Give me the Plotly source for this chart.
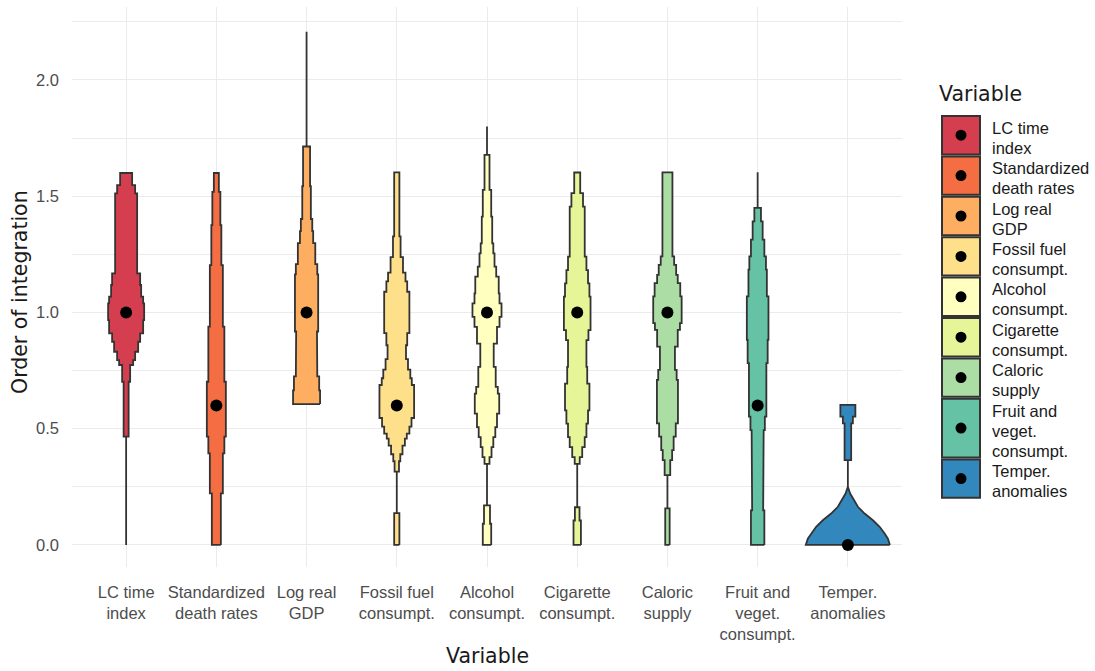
import plotly.graph_objects as go

# ---------------- data ----------------
categories = ["LC time index", "Standardized death rates", "Log real GDP",
              "Fossil fuel consumpt.", "Alcohol consumpt.", "Cigarette consumpt.",
              "Caloric supply", "Fruit and veget. consumpt.", "Temper. anomalies"]
tick_labels = ["LC time<br>index", "Standardized<br>death rates", "Log real<br>GDP",
               "Fossil fuel<br>consumpt.", "Alcohol<br>consumpt.", "Cigarette<br>consumpt.",
               "Caloric<br>supply", "Fruit and<br>veget.<br>consumpt.", "Temper.<br>anomalies"]
legend_lines = [["LC time", "index"], ["Standardized", "death rates"], ["Log real", "GDP"],
                ["Fossil fuel", "consumpt."], ["Alcohol", "consumpt."], ["Cigarette", "consumpt."],
                ["Caloric", "supply"], ["Fruit and", "veget.", "consumpt."], ["Temper.", "anomalies"]]
colors = ["#d53e4f", "#f46d43", "#fdae61", "#fee08b", "#ffffbf",
          "#e6f598", "#abdda4", "#66c2a5", "#3288bd"]
medians = [1.0, 0.6, 1.0, 0.6, 1.0, 1.0, 1.0, 0.6, 0.0]

# violin density profiles: bin edges (order of integration) and density per bin
lc_edges = [0, 0.466, 0.702, 0.774, 0.795, 0.831, 0.874, 0.910, 0.967, 1.039, 1.068,
            1.118, 1.168, 1.333, 1.447, 1.512, 1.548, 1.60]
lc_dens = [0, 2.5, 4, 7, 9, 12, 14, 17, 18, 17, 15, 14, 11, 11.5, 11, 9, 6]

sdr_edges = [0, 0.222, 0.394, 0.466, 0.702, 0.939, 1.204, 1.376, 1.519, 1.60]
sdr_dens = [4.5, 6.5, 8, 9.5, 8, 6.5, 5, 4, 2.5]

gdp_edges = [0.606, 0.665, 0.725, 0.799, 0.918, 1.164, 1.208, 1.298, 1.350, 1.402,
             1.543, 1.714, 2.208]
gdp_dens = [13.5, 12.6, 10.7, 10.4, 11.6, 10.7, 8.7, 6.6, 5.7, 4.3, 3.5, 0]

fossil_edges = [0, 0.137, 0.315, 0.360, 0.390, 0.427, 0.457, 0.479, 0.509, 0.546, 0.688,
                0.717, 0.754, 0.799, 0.859, 0.911, 1.089, 1.134, 1.171, 1.238, 1.327, 1.603]
fossil_dens = [2.6, 0, 2.2, 3.5, 5.7, 8.1, 10, 12.6, 14.7, 17.3, 15, 13.5, 11.2, 9.2,
               10.4, 12.6, 10.4, 8.7, 6.2, 3.8, 2.6]

alc_edges = [0, 0.091, 0.170, 0.349, 0.378, 0.421, 0.464, 0.507, 0.565, 0.651, 0.680,
             0.766, 0.866, 0.938, 0.981, 1.039, 1.082, 1.154, 1.197, 1.254, 1.297,
             1.412, 1.527, 1.678, 1.80]
alc_dens = [4.2, 3, 0, 2.5, 4.5, 6.3, 8.3, 10, 12.2, 10.8, 8.7, 6.7, 10, 12.5, 14.5,
            12.5, 11.7, 9.2, 7.5, 6.3, 5.2, 4.2, 2.5, 0]

cig_edges = [0, 0.105, 0.162, 0.349, 0.378, 0.421, 0.464, 0.522, 0.579, 0.694, 0.766,
             0.881, 0.924, 1.068, 1.125, 1.182, 1.240, 1.455, 1.513, 1.602]
cig_dens = [3.7, 2.3, 0, 2.5, 5, 7.5, 9.2, 10.8, 12.2, 10, 9.2, 11.2, 13.3, 12.2, 10.8,
            9.2, 7.5, 5.8, 3]

cal_edges = [0, 0.157, 0.300, 0.365, 0.408, 0.466, 0.523, 0.710, 0.753, 0.853, 0.925,
             0.954, 1.069, 1.126, 1.162, 1.205, 1.241, 1.313, 1.435, 1.603]
cal_dens = [2.2, 0, 2.8, 4.7, 6.2, 8.3, 10.5, 9.2, 7.5, 10.3, 12.5, 14.2, 12.8, 10.3,
            8.7, 6.7, 5, 4.5, 5]

fruit_edges = [0, 0.149, 0.394, 0.494, 0.552, 0.782, 0.882, 1.069, 1.184, 1.241, 1.313,
               1.392, 1.450, 1.603]
fruit_dens = [6.7, 5.5, 6, 7.2, 8.7, 10, 10.8, 9.2, 8.3, 6.7, 5, 3.3, 0]

temp_tri_y = [0, 0.027, 0.049, 0.078, 0.106, 0.135, 0.164, 0.193, 0.221, 0.25]
temp_tri_dens = [42, 40, 36.7, 31.7, 25, 16.7, 10, 5.7, 2.3, 0]
temp_edges = [0.25, 0.365, 0.523, 0.552, 0.602]
temp_dens = [0, 3.3, 5, 7.5]

DENS_TO_X = 1 / 90.1  # density units -> category widths


def step_knots(edges, dens):
    ys, ws = [], []
    for i, d in enumerate(dens):
        ys += [edges[i], edges[i + 1]]
        ws += [d, d]
    return ys, ws


profiles = [step_knots(lc_edges, lc_dens), step_knots(sdr_edges, sdr_dens),
            step_knots(gdp_edges, gdp_dens), step_knots(fossil_edges, fossil_dens),
            step_knots(alc_edges, alc_dens), step_knots(cig_edges, cig_dens),
            step_knots(cal_edges, cal_dens), step_knots(fruit_edges, fruit_dens)]
ty, tw = step_knots(temp_edges, temp_dens)
profiles.append((temp_tri_y + ty, temp_tri_dens + tw))

# ---------------- figure ----------------
fig = go.Figure()
for i, (ys, ws) in enumerate(profiles):
    c = i + 1
    xs = [c + w * DENS_TO_X for w in ws] + [c - w * DENS_TO_X for w in reversed(ws)]
    yy = ys + list(reversed(ys))
    xs.append(xs[0]); yy.append(yy[0])
    fig.add_trace(go.Scatter(x=xs, y=yy, mode="lines", fill="toself",
                             fillcolor=colors[i], line=dict(color="#333333", width=1.8),
                             showlegend=False, hoverinfo="skip"))

fig.add_trace(go.Scatter(x=list(range(1, 10)), y=medians, mode="markers",
                         marker=dict(color="black", size=12), showlegend=False))

# pixel helpers for plot area (72..902 x, 7..567 y)
L, R, T, B = 72, 902, 7, 567
def px(x):
    return (x - L) / (R - L)
def py(y):
    return (B - y) / (B - T)

shapes, annos = [], []
# axis titles
annos.append(dict(text="Order of integration", x=px(20), y=py(292), xref="paper", yref="paper",
                  textangle=-90, showarrow=False, xanchor="center", yanchor="middle",
                  font=dict(family="DejaVu Sans", size=20.5, color="#1a1a1a")))
annos.append(dict(text="Variable", x=px(487), y=py(656), xref="paper", yref="paper",
                  showarrow=False, xanchor="center", yanchor="middle",
                  font=dict(family="DejaVu Sans", size=20.5, color="#1a1a1a")))
# legend
annos.append(dict(text="Variable", x=px(937), y=py(94), xref="paper", yref="paper",
                  showarrow=False, xanchor="left", yanchor="middle",
                  font=dict(family="DejaVu Sans", size=20.5, color="#1a1a1a")))
top = 115.0
line_h = 20.2
for i, lines in enumerate(legend_lines):
    h = line_h * len(lines)
    shapes.append(dict(type="rect", xref="paper", yref="paper",
                       x0=px(942), x1=px(980), y0=py(top + 1), y1=py(top + h - 1),
                       fillcolor=colors[i], line=dict(color="#333333", width=2)))
    cy = top + h / 2
    shapes.append(dict(type="circle", xref="paper", yref="paper",
                       x0=px(961 - 5.5), x1=px(961 + 5.5), y0=py(cy - 5.5), y1=py(cy + 5.5),
                       fillcolor="black", line=dict(color="black", width=0)))
    for j, t in enumerate(lines):
        ly = cy + 2.5 + (j - (len(lines) - 1) / 2) * 20
        annos.append(dict(text=t, x=px(990), y=py(ly), xref="paper", yref="paper",
                          showarrow=False, xanchor="left", yanchor="middle",
                          font=dict(family="Liberation Sans", size=16.5, color="#1a1a1a")))
    top += h

fig.update_layout(
    width=1095, height=671,
    margin=dict(l=L, r=1095 - R, t=T, b=671 - B, autoexpand=False),
    plot_bgcolor="white", paper_bgcolor="white",
    showlegend=False,
    shapes=shapes, annotations=annos,
    xaxis=dict(range=[0.4, 9.6], tickvals=list(range(1, 10)), ticktext=tick_labels,
               showgrid=True, gridcolor="#ebebeb", gridwidth=1.3, zeroline=False,
               showline=False, ticks="", ticklabelstandoff=13,
               tickfont=dict(family="Liberation Sans", size=16.5, color="#4d4d4d")),
    yaxis=dict(range=[-0.095, 2.314], tickvals=[0, 0.5, 1.0, 1.5, 2.0],
               ticktext=["0.0", "0.5", "1.0", "1.5", "2.0"],
               showgrid=True, gridcolor="#ebebeb", gridwidth=1.3, zeroline=False,
               showline=False, ticks="", ticklabelstandoff=12,
               tickfont=dict(family="Liberation Sans", size=16.5, color="#4d4d4d"),
               minor=dict(tickvals=[0.25, 0.75, 1.25, 1.75, 2.25], showgrid=True,
                          gridcolor="#ebebeb", gridwidth=1.1)),
)

fig.write_html("out.html", config={"displayModeBar": False},
               post_script="document.body.style.margin='0';document.body.style.overflow='hidden';")
